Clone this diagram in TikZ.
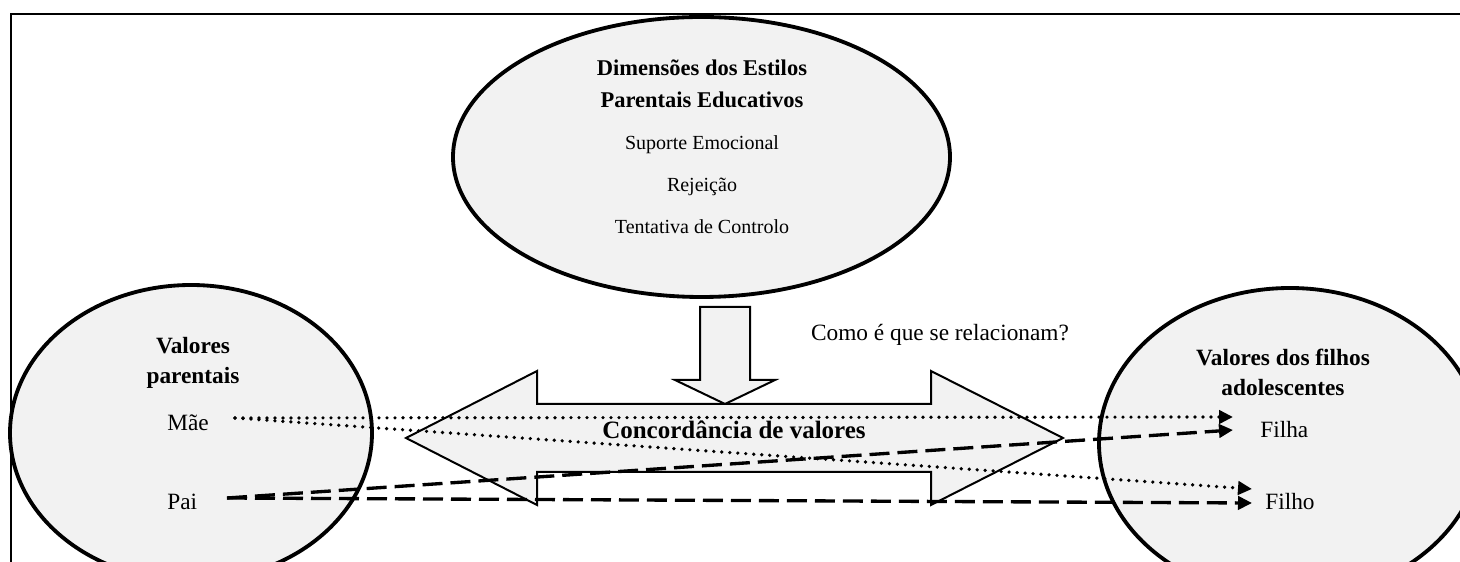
\documentclass[tikz,border=0pt]{standalone}
\usepackage{fontspec}
\setmainfont{Liberation Serif}
\usepackage{tikz}
\usetikzlibrary{positioning, arrows.meta, shapes.geometric, calc}
\tikzstyle{bubble} = [ellipse, draw=black, line width=2.3pt, fill=black!5, inner sep=0pt]
\tikzstyle{bigarrow} = [draw=black, line width=1.2pt, fill=black!5, line join=miter]
\tikzstyle{dotline} = [line width=2.2pt, line cap=round, dash pattern=on 0pt off 4.8pt, -{Triangle[length=8.4pt,width=8pt]}]
\tikzstyle{dashline} = [line width=2pt, dash pattern=on 12pt off 4.8pt, -{Triangle[length=8.4pt,width=8pt]}]
\tikzstyle{lbl} = [font=\fontsize{14}{18}\selectfont]
\tikzstyle{title} = [font=\fontsize{14}{18}\selectfont\bfseries, align=center]

\begin{document}
\begin{tikzpicture}[x=0.6pt, y=-0.6pt]
        \useasboundingbox (0,0) rectangle (1460,562);
        \draw [line width=1pt] (10.7,562) -- (10.7,14) -- (1460,14);

        % ellipses
        \node (dims) [bubble, minimum width=298.2pt, minimum height=168pt] at (701.5,157) {};
        \node (pais) [bubble, minimum width=217.2pt, minimum height=177.6pt] at (191,433) {};
        \node (filhos) [bubble, minimum width=229.2pt, minimum height=186pt] at (1290,443) {};

        \node (dimtitle) [font=\fontsize{13.5}{19.2}\selectfont\bfseries, align=center] at (702,84) {Dimensões dos Estilos\\Parentais Educativos};
        \node (suporte) [font=\fontsize{12}{14}\selectfont] at (702,145) {Suporte Emocional};
        \node (rejeicao) [font=\fontsize{12}{14}\selectfont] at (702,187) {Rejeição};
        \node (controlo) [font=\fontsize{12}{14}\selectfont] at (702,227) {Tentativa de Controlo};

        % arrows
        \draw [bigarrow] (700,307) -- (750,307) -- (750,380) -- (775,380) -- (725,404) -- (675,380) -- (700,380) -- cycle;
        \draw [bigarrow] (406,438) -- (537,371) -- (537,404) -- (931,404) -- (931,371) -- (1063,438)
                -- (931,505) -- (931,472) -- (537,472) -- (537,505) -- cycle;

        \node (como) [lbl] at (940,335) {Como é que se relacionam?};
        \node (concord) [lbl, font=\fontsize{15}{18}\selectfont\bfseries] at (734,430) {Concordância de valores};

        \node (valpais) [title] at (193,363) {Valores\\parentais};
        \node (mae) [lbl, anchor=west, inner sep=0pt] at (167,423) {Mãe};
        \node (pai) [lbl, anchor=west, inner sep=0pt] at (167,502) {Pai};
        \node (valfilhos) [title] at (1283,372) {Valores dos filhos\\adolescentes};
        \node (filha) [lbl, anchor=west, inner sep=0pt] at (1260,430) {Filha};
        \node (filho) [lbl, anchor=west, inner sep=0pt] at (1265,502) {Filho};

        \coordinate (maeout) at (235,418);
        \coordinate (paiout) at (227,498);
        \coordinate (filhain1) at (1233,417);
        \coordinate (filhain2) at (1233,430);
        \coordinate (filhoin1) at (1252,489);
        \coordinate (filhoin2) at (1252,503);

        \draw [dotline] (maeout) -- (filhain1);
        \draw [dotline] (maeout) -- (filhoin1);
        \draw [dashline] (paiout) -- (filhain2);
        \draw [dashline] (paiout) -- (filhoin2);

        \end{tikzpicture}
\end{document}
